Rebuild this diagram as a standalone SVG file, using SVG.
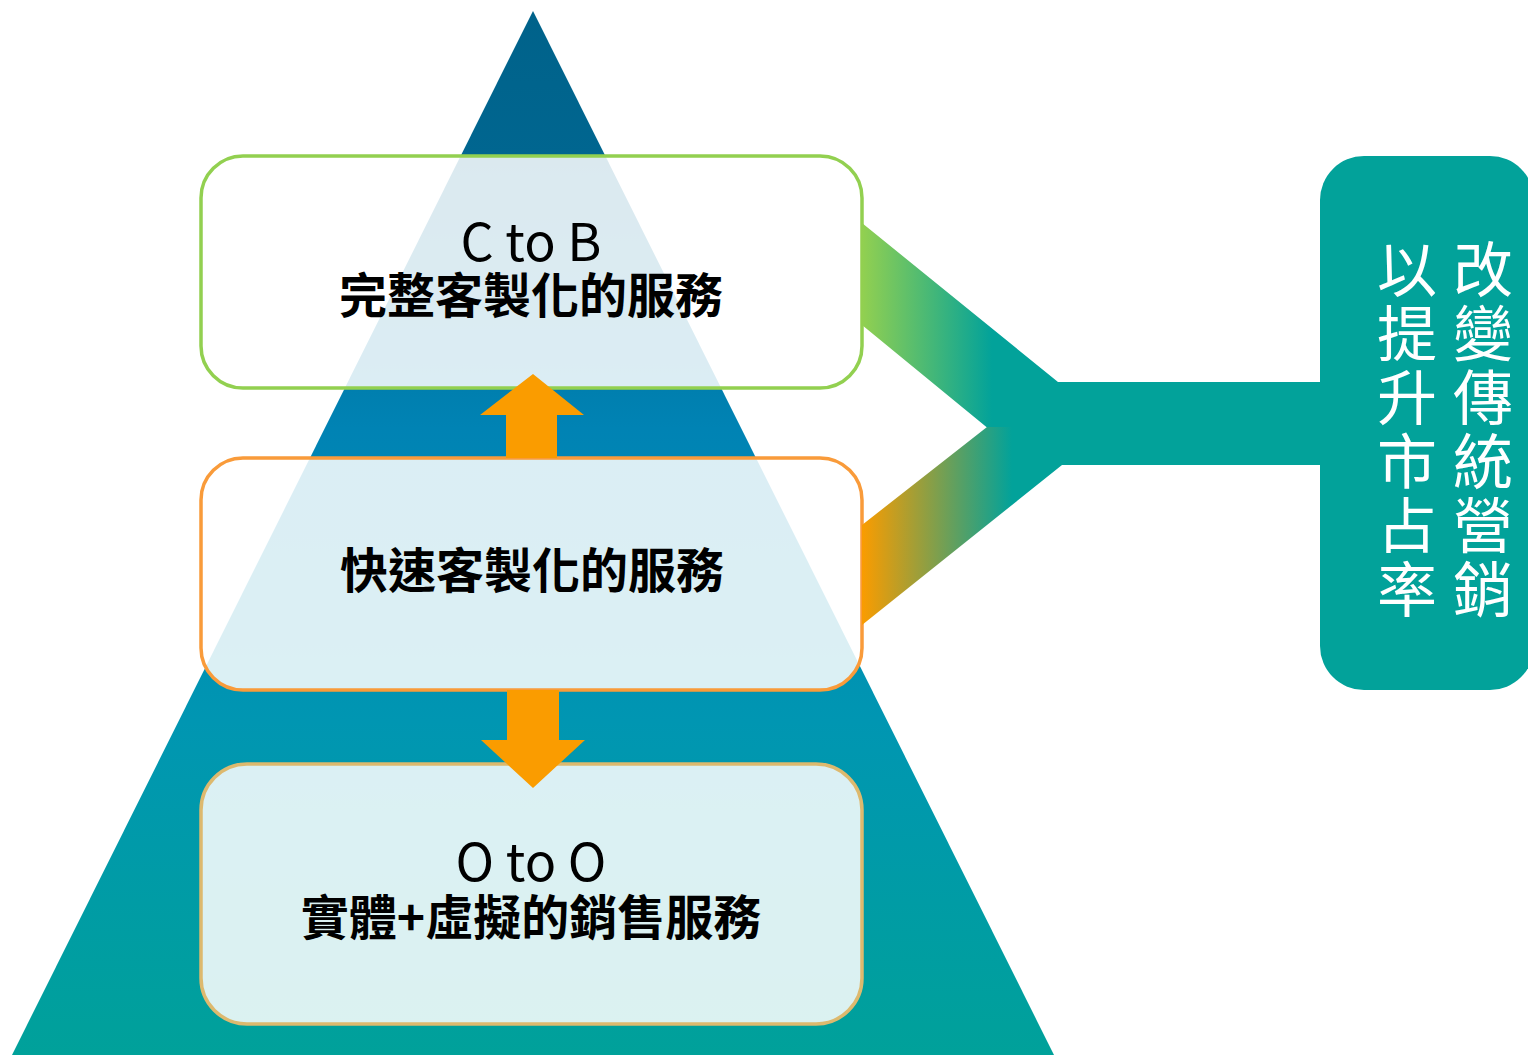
<svg xmlns="http://www.w3.org/2000/svg" width="1528" height="1055" viewBox="0 0 1528 1055">
<defs>
<linearGradient id="pyrGrad" gradientUnits="userSpaceOnUse" x1="0" y1="11" x2="0" y2="1055">
<stop offset="0" stop-color="#00628A"/>
<stop offset="0.14" stop-color="#006690"/>
<stop offset="0.4" stop-color="#0083B4"/>
<stop offset="0.68" stop-color="#0096B2"/>
<stop offset="1" stop-color="#00A19A"/>
</linearGradient>
<linearGradient id="greenGrad" gradientUnits="userSpaceOnUse" x1="862" y1="0" x2="992" y2="0">
<stop offset="0" stop-color="#92D050"/>
<stop offset="1" stop-color="#02A29A"/>
</linearGradient>
<linearGradient id="orangeGrad" gradientUnits="userSpaceOnUse" x1="862" y1="0" x2="1012" y2="0">
<stop offset="0" stop-color="#FA9C00"/>
<stop offset="1" stop-color="#02A29A"/>
</linearGradient>
<style>
.box{fill:#FFFFFF;fill-opacity:0.86;stroke-width:3.5}
.lbl{font-family:"Noto Sans CJK TC","Noto Sans CJK SC","Liberation Sans",sans-serif;fill:#000000;text-anchor:middle}
.cjk{font-size:48px;font-weight:700}
.lat{font-size:52px;font-weight:400}
.vt{font-family:"Noto Sans CJK TC","Noto Sans CJK SC",sans-serif;fill:#FFFFFF;font-size:60px;text-anchor:middle}
.arrow{fill:#FA9C00}
</style>
</defs>
<rect width="1528" height="1055" fill="#FFFFFF"/>
<g id="pyramid">
<polygon points="533,11 1054,1055 12,1055" fill="url(#pyrGrad)"/>
</g>
<g id="node-ctob">
<rect class="box" x="201" y="156" width="661" height="232" rx="42" stroke="#92D050"/>
<text class="lbl lat" x="531" y="261">C to B</text>
<text class="lbl cjk" x="531" y="313">完整客製化的服務</text>
</g>
<g id="node-fast">
<rect class="box" x="201" y="458" width="661" height="232" rx="42" stroke="#F99B3A"/>
<text class="lbl cjk" x="532" y="588">快速客製化的服務</text>
</g>
<g id="node-oto">
<rect class="box" x="201" y="764" width="661" height="260" rx="46" stroke="#DDB96E"/>
<text class="lbl lat" x="531" y="881">O to O</text>
<text class="lbl cjk" x="531" y="935">實體+虛擬的銷售服務</text>
</g>
<g id="node-goal">
<rect x="1320" y="156" width="214" height="534" rx="44" fill="#02A29A"/>
<g class="vt">
<text x="1483" y="292">改</text>
<text x="1483" y="356">變</text>
<text x="1483" y="420">傳</text>
<text x="1483" y="484">統</text>
<text x="1483" y="548">營</text>
<text x="1483" y="612">銷</text>
<text x="1407" y="292">以</text>
<text x="1407" y="356">提</text>
<text x="1407" y="420">升</text>
<text x="1407" y="484">市</text>
<text x="1407" y="548">占</text>
<text x="1407" y="612">率</text>
</g>
</g>
<g id="connectors">
<polygon points="862,223 1058,382 1321,382 1321,427.5 987,427.5 862,325" fill="url(#greenGrad)"/>
<polygon points="987,427 1321,427 1321,465 1062,465 862,625 862,525" fill="url(#orangeGrad)"/>
<polygon class="arrow" points="533,374 584,415 557,415 557,458 506,458 506,415 480,415"/>
<polygon class="arrow" points="507,690 559,690 559,740 585,740 533,788 481,740 507,740"/>
</g>
</svg>
